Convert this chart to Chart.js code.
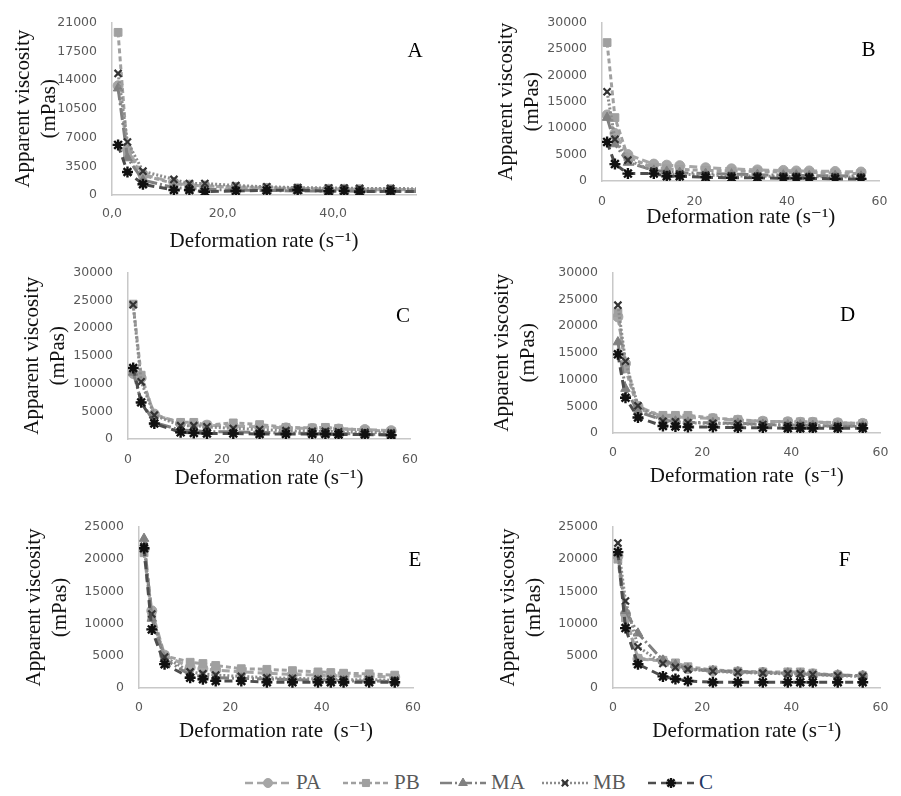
<!DOCTYPE html>
<html>
<head>
<meta charset="utf-8">
<script src="https://cdn.jsdelivr.net/npm/chart.js@4.4.1/dist/chart.umd.min.js"></script>
<style>
  html, body { margin: 0; padding: 0; background: #fff; }
  #page { position: relative; width: 901px; height: 796px; overflow: hidden; }
  #page canvas.panel { position: absolute; }
  .item { position: absolute; top: 770px; height: 26px; }
  .item canvas { position: absolute; top: 0; }
  .item span { position: absolute; top: 0px; font-family: 'Liberation Serif', serif; font-size: 21px; color: #595959; white-space: nowrap; }
</style>
</head>
<body>
<div id="page">
  <canvas id="chartA" class="panel" width="450" height="255" style="left:0px;top:0px"></canvas>
  <canvas id="chartB" class="panel" width="451" height="245" style="left:450px;top:0px"></canvas>
  <canvas id="chartC" class="panel" width="450" height="245" style="left:0px;top:250px"></canvas>
  <canvas id="chartD" class="panel" width="451" height="245" style="left:450px;top:250px"></canvas>
  <canvas id="chartE" class="panel" width="450" height="250" style="left:0px;top:495px"></canvas>
  <canvas id="chartF" class="panel" width="451" height="250" style="left:450px;top:495px"></canvas>
</div>
<script>
// deformation rate (s-1), same for every sample
const rate = [1.1, 2.8, 5.6, 11.2, 14.0, 16.8, 22.4, 28.0, 33.6, 39.2, 42.0, 44.8, 50.4, 56.0];

// apparent viscosity (mPas)
const A_PA = [13300, 5500, 2500, 1500, 1200, 1100, 900, 800, 750, 700, 700, 650, 650, 600];
const A_PB = [19800, 5000, 2400, 1400, 1200, 1100, 1000, 900, 800, 800, 750, 700, 700, 650];
const A_MA = [13000, 4500, 1800, 900, 800, 700, 600, 550, 500, 500, 480, 460, 450, 430];
const A_MB = [14800, 6450, 2900, 1900, 1400, 1400, 1150, 1000, 900, 850, 850, 800, 800, 750];
const A_C  = [6100, 2800, 1300, 600, 600, 400, 500, 550, 600, 450, 500, 400, 450, 400];

const B_PA = [12500, 9000, 5000, 3200, 3000, 2900, 2500, 2300, 2100, 2000, 1900, 1900, 1800, 1700];
const B_PB = [26200, 12000, 4500, 2500, 2300, 2200, 2000, 1900, 1800, 1700, 1600, 1600, 1500, 1400];
const B_MA = [12000, 7000, 3500, 2000, 1800, 1600, 1400, 1300, 1200, 1100, 1100, 1000, 1000, 900];
const B_MB = [16900, 7900, 3950, 1900, 1300, 1300, 1100, 1000, 900, 900, 850, 800, 800, 750];
const B_C  = [7400, 3200, 1400, 1400, 900, 900, 700, 600, 600, 500, 500, 500, 400, 400];

const C_PA = [11800, 11000, 4500, 2800, 2700, 2500, 2300, 2200, 2000, 1900, 1900, 1800, 1700, 1500];
const C_PB = [24300, 11500, 4300, 3000, 3000, 2500, 2900, 2600, 2100, 2000, 2100, 1900, 1600, 1400];
const C_MA = [12000, 6800, 3000, 1600, 1500, 1300, 1300, 1200, 1100, 1000, 1000, 1000, 900, 800];
const C_MB = [24200, 10300, 4300, 2400, 2400, 2200, 1900, 1700, 1500, 1400, 1400, 1300, 1200, 1100];
const C_C  = [12800, 6600, 2800, 1200, 1100, 1000, 1000, 900, 900, 900, 900, 800, 800, 700];

const D_PA = [21700, 13000, 5000, 3000, 3000, 2900, 2700, 2400, 2200, 2100, 2000, 2000, 1900, 1800];
const D_PB = [22500, 12000, 4500, 3300, 3300, 3300, 2800, 2500, 2200, 2100, 2100, 2100, 1900, 1800];
const D_MA = [17000, 8300, 4000, 2400, 2200, 2000, 1900, 1800, 1600, 1500, 1500, 1400, 1300, 1300];
const D_MB = [23900, 13400, 5100, 2200, 2100, 1900, 1800, 1700, 1600, 1400, 1400, 1300, 1300, 1200];
const D_C  = [14700, 6600, 2900, 1300, 1200, 1100, 1100, 1000, 1000, 900, 900, 900, 900, 900];

const E_PA = [21500, 12000, 5100, 3200, 3000, 2800, 2500, 2300, 2100, 2000, 1900, 1900, 1800, 1700];
const E_PB = [21000, 11000, 5000, 4000, 3800, 3500, 3000, 2900, 2700, 2500, 2400, 2300, 2200, 2000];
const E_MA = [23200, 10800, 4500, 2000, 1800, 1600, 1500, 1400, 1300, 1200, 1200, 1100, 1100, 1000];
const E_MB = [22000, 11500, 4800, 2500, 2200, 2000, 1800, 1600, 1500, 1400, 1400, 1300, 1300, 1200];
const E_C  = [21700, 9100, 3700, 1600, 1350, 1100, 1100, 900, 900, 900, 900, 900, 900, 900];

const F_PA = [20500, 11500, 4500, 4200, 3500, 3000, 2600, 2500, 2400, 2300, 2300, 2200, 2000, 1900];
const F_PB = [20000, 10900, 4600, 4300, 3900, 3300, 2800, 2600, 2500, 2500, 2500, 2300, 2000, 1900];
const F_MA = [21000, 12000, 8500, 4300, 3600, 3000, 2700, 2500, 2400, 2300, 2200, 2100, 2000, 1900];
const F_MB = [22500, 13500, 6400, 3800, 3200, 2900, 2600, 2400, 2300, 2200, 2200, 2100, 1900, 1800];
const F_C  = [21100, 9300, 3700, 1800, 1400, 1100, 900, 900, 900, 900, 900, 900, 900, 900];

const seriesNames = ['PA', 'PB', 'MA', 'MB', 'C'];

// line / marker look of each sample (Excel grey scale)
const styles = {
    PA: { line: '#a6a6a6', dash: [8, 4], point: 'circle', fill: '#a6a6a6', radius: 5, pw: 1, order: 4 },
    PB: { line: '#a0a0a0', dash: [5, 3], point: 'rect', fill: '#a0a0a0', radius: 5.5, pw: 1, order: 3 },
    MA: { line: '#808080', dash: [12, 3, 2, 3], point: 'triangle', fill: '#808080', radius: 5.5, pw: 1, order: 2 },
    MB: { line: '#8c8c8c', dash: [2, 2], point: 'crossRot', fill: '#333333', radius: 5, pw: 2.2, order: 1 },
    C:  { line: '#4d4d4d', dash: [8, 5], point: 'star', fill: '#111111', radius: 5.5, pw: 2.4, order: 0 },
};

const tickFont = { family: "'DejaVu Sans', sans-serif", size: 12.5 };
const titleFont = { family: "'Liberation Serif', 'DejaVu Serif', serif", size: 21, lineHeight: 1.25 };

// draws the panel letter (A..F) in the upper right of the plot
const panelLetter = {
    id: 'panelLetter',
    afterDraw(chart, args, opts) {
        const { ctx, chartArea } = chart;
        ctx.save();
        ctx.font = "21px 'Liberation Serif', serif";
        ctx.fillStyle = '#000';
        ctx.textAlign = 'center';
        ctx.textBaseline = 'middle';
        ctx.fillText(opts.text, chartArea.right - opts.dx, chartArea.top + opts.dy);
        ctx.restore();
    }
};

function makeChart(id, p) {
    const datasets = seriesNames.map(function (name, i) {
        const s = styles[name];
        return {
            label: name,
            data: rate.map((x, k) => ({ x: x, y: p.values[i][k] })),
            showLine: true,
            borderColor: s.line,
            borderWidth: 3,
            borderDash: s.dash,
            pointStyle: s.point,
            pointRadius: s.radius,
            pointBackgroundColor: s.fill,
            pointBorderColor: s.fill,
            pointBorderWidth: s.pw,
            order: s.order,
        };
    });

    return new Chart(document.getElementById(id), {
        type: 'scatter',
        data: { datasets: datasets },
        plugins: [panelLetter],
        options: {
            responsive: false,
            animation: false,
            devicePixelRatio: 1,
            layout: { padding: { left: 0, top: p.top, right: p.right, bottom: 0 } },
            plugins: {
                legend: { display: false },
                tooltip: { enabled: false },
                panelLetter: { text: p.letter, dx: p.letterDx, dy: p.letterDy },
            },
            scales: {
                x: {
                    type: 'linear',
                    min: 0,
                    max: p.xMax,
                    bounds: 'data',
                    grid: { display: false, drawTicks: false },
                    border: { display: true, color: '#c8c8c8', width: 1.5 },
                    ticks: {
                        stepSize: 20,
                        padding: p.xTickPad,
                        font: tickFont,
                        color: '#595959',
                        maxRotation: 0,
                        callback: p.xLabel,
                    },
                    // only the multiples of 20 get a label
                    afterBuildTicks(scale) {
                        scale.ticks = scale.ticks.filter((t) => t.value % 20 === 0);
                    },
                    title: {
                        display: true,
                        text: p.xTitle,
                        font: titleFont,
                        color: '#111',
                        padding: { top: 0, bottom: p.xTitlePad },
                    },
                    afterFit(scale) { scale.height = p.xHeight; },
                },
                y: {
                    type: 'linear',
                    min: 0,
                    max: p.yMax,
                    bounds: 'data',
                    grid: { display: false, drawTicks: false },
                    border: { display: true, color: '#c8c8c8', width: 1.5 },
                    ticks: {
                        stepSize: p.yStep,
                        padding: 15,
                        font: tickFont,
                        color: '#595959',
                        callback: (v) => String(v),
                    },
                    title: {
                        display: true,
                        text: ['Apparent viscosity', '(mPas)'],
                        font: titleFont,
                        color: '#111',
                        padding: { top: p.yTitlePad, bottom: 0 },
                    },
                    afterFit(scale) { scale.width = p.yWidth; },
                },
            },
        },
    });
}

const plainRate = (v) => String(v);
const commaRate = (v) => v.toFixed(1).replace('.', ',');

makeChart('chartA', {
    values: [A_PA, A_PB, A_MA, A_MB, A_C], letter: 'A', letterDx: 1, letterDy: 29,
    xMax: 55, xLabel: commaRate, xTitle: 'Deformation rate (s\u207B\u00B9)',
    yMax: 21000, yStep: 3500,
    top: 14, right: 34, yWidth: 112, xHeight: 60, xTickPad: 11.5, xTitlePad: 0, yTitlePad: 10,
});
makeChart('chartB', {
    values: [B_PA, B_PB, B_MA, B_MB, B_C], letter: 'B', letterDx: 11, letterDy: 28,
    xMax: 60, xLabel: plainRate, xTitle: 'Deformation rate (s\u207B\u00B9)',
    yMax: 30000, yStep: 5000,
    top: 14, right: 18, yWidth: 152, xHeight: 64, xTickPad: 13.5, xTitlePad: 14, yTitlePad: 43,
});
makeChart('chartC', {
    values: [C_PA, C_PB, C_MA, C_MB, C_C], letter: 'C', letterDx: 7, letterDy: 44,
    xMax: 60, xLabel: plainRate, xTitle: 'Deformation rate (s\u207B\u00B9)',
    yMax: 30000, yStep: 5000,
    top: 18, right: 40, yWidth: 128, xHeight: 56, xTickPad: 13.5, xTitlePad: 3, yTitlePad: 19,
});
makeChart('chartD', {
    values: [D_PA, D_PB, D_MA, D_MB, D_C], letter: 'D', letterDx: 33, letterDy: 43,
    xMax: 60, xLabel: plainRate, xTitle: 'Deformation rate  (s\u207B\u00B9)',
    yMax: 30000, yStep: 5000,
    top: 20, right: 11, yWidth: 163, xHeight: 62, xTickPad: 12.5, xTitlePad: 5, yTitlePad: 39,
});
makeChart('chartE', {
    values: [E_PA, E_PB, E_MA, E_MB, E_C], letter: 'E', letterDx: -2, letterDy: 33,
    xMax: 60, xLabel: plainRate, xTitle: 'Deformation rate  (s\u207B\u00B9)',
    yMax: 25000, yStep: 5000,
    top: 32, right: 37, yWidth: 139, xHeight: 57, xTickPad: 12.5, xTitlePad: 0, yTitlePad: 21,
});
makeChart('chartF', {
    values: [F_PA, F_PB, F_MA, F_MB, F_C], letter: 'F', letterDx: 36, letterDy: 33,
    xMax: 60, xLabel: plainRate, xTitle: 'Deformation rate (s\u207B\u00B9)',
    yMax: 25000, yStep: 5000,
    top: 32, right: 10, yWidth: 163, xHeight: 57, xTickPad: 12.5, xTitlePad: 0, yTitlePad: 45,
});

// shared legend under the panels: line sample + marker + name
const legendPos = { PA: 245, PB: 343, MA: 440, MB: 542, C: 648 };
const legendText = { PA: '#595959', PB: '#595959', MA: '#595959', MB: '#595959', C: '#1f3864' };

function drawLegend() {
    const page = document.getElementById('page');
    for (const name of seriesNames) {
        const s = styles[name];
        const item = document.createElement('div');
        item.className = 'item';
        item.style.left = legendPos[name] + 'px';

        const c = document.createElement('canvas');
        c.width = 46;
        c.height = 26;
        item.appendChild(c);

        const ctx = c.getContext('2d');
        ctx.strokeStyle = s.line;
        ctx.lineWidth = 2.5;
        ctx.setLineDash(s.dash);
        ctx.beginPath();
        ctx.moveTo(0, 13);
        ctx.lineTo(46, 13);
        ctx.stroke();
        ctx.setLineDash([]);
        ctx.fillStyle = s.fill;
        ctx.strokeStyle = s.fill;
        ctx.lineWidth = s.pw;
        Chart.helpers.drawPoint(ctx, { pointStyle: s.point, radius: s.radius - 0.5, borderWidth: s.pw, rotation: 0 }, 23, 13);

        const label = document.createElement('span');
        label.textContent = name;
        label.style.left = '51px';
        label.style.color = legendText[name];
        item.appendChild(label);

        page.appendChild(item);
    }
}

drawLegend();
</script>
</body>
</html>
